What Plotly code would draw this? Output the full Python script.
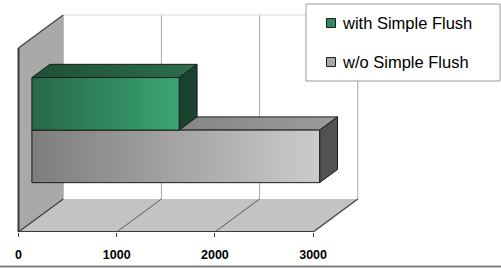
import plotly.graph_objects as go

# ---------------- data ----------------
series_names = ["with Simple Flush", "w/o Simple Flush"]
with_values = [1500]
without_values = [2930]
tick_values = [0, 1000, 2000, 3000]
tick_labels = ["0", "1000", "2000", "3000"]

# ---------------- layout geometry (style) ----------------
W, H = 501, 268
PLOT_H = 232                 # plot area height in px (bottom margin holds labels)
PX_PER_UNIT = 0.0982         # px per value unit on the front plane
X0_PX = 18.5                 # px position of value 0
PX_PER_Y = 92.0              # px per category unit
DEPTH_PX = (44.7, 33.0)      # full depth projection (right, up) in px
DX = DEPTH_PX[0] / PX_PER_UNIT
DY = DEPTH_PX[1] / PX_PER_Y
F1, F2 = 0.3, 0.7            # bar depth span (gap depth 150%)
GAP = 1.5                    # gap width 150%
BW = 2.0 / (2 + GAP)         # bar thickness in category units
X_MAX = max(tick_values)
Y_TOP = 2.0

x_range = [-X0_PX / PX_PER_UNIT, (W - X0_PX) / PX_PER_UNIT]
y_range = [0, PLOT_H / PX_PER_Y]


def p(x, y, f):
    return x + f * DX, y + f * DY


def poly(pts, fill=None, grad=None, line_color="rgba(0,0,0,0)", lw=1):
    xs = [q[0] for q in pts] + [pts[0][0]]
    ys = [q[1] for q in pts] + [pts[0][1]]
    kw = dict(x=xs, y=ys, mode="lines", fill="toself",
              line=dict(color=line_color, width=lw),
              hoverinfo="skip", showlegend=False)
    if grad is not None:
        kw["fillgradient"] = dict(type="horizontal", colorscale=[[0, grad[0]], [1, grad[1]]])
    else:
        kw["fillcolor"] = fill
    return go.Scatter(**kw)


def seg(a, b, color, lw=1):
    return go.Scatter(x=[a[0], b[0]], y=[a[1], b[1]], mode="lines",
                      line=dict(color=color, width=lw),
                      hoverinfo="skip", showlegend=False)


traces = []

# back wall gridlines
for tv in tick_values:
    traces.append(seg(p(tv, 0, 1), p(tv, Y_TOP, 1), "#a6a6a6", 1))
traces.append(seg(p(0, Y_TOP, 1), p(X_MAX, Y_TOP, 1), "#d9d9d9", 1))

# left side wall
traces.append(poly([p(0, 0, 0), p(0, Y_TOP, 0), p(0, Y_TOP, 1), p(0, 0, 1)], fill="#a9a9a9"))
traces.append(seg(p(0, 0, 0), p(0, Y_TOP, 0), "#3a3a3a", 2))
traces.append(seg(p(0, Y_TOP, 0), p(0, Y_TOP, 1), "#4a4a4a", 1.5))

# floor
traces.append(poly([p(0, 0, 0), p(X_MAX, 0, 0), p(X_MAX, 0, 1), p(0, 0, 1)], fill="#c3c3c3"))
for tv in tick_values[1:-1]:
    traces.append(seg(p(tv, 0, 0), p(tv, 0, 1), "#5a5a5a", 1))
traces.append(seg(p(0, 0, 0), p(0, 0, 1), "#3a3a3a", 1.2))
traces.append(seg(p(X_MAX, 0, 0), p(X_MAX, 0, 1), "#4a4a4a", 1.5))
traces.append(seg(p(0, 0, 0), p(X_MAX, 0, 0), "#3a3a3a", 2))


def bar(v, y0, y1, front, top, side):
    edge = "#1c1c1c"
    out = []
    out.append(poly([p(0, y1, F1), p(v, y1, F1), p(v, y1, F2), p(0, y1, F2)],
                    grad=top, line_color=edge, lw=1))
    out.append(poly([p(v, y0, F1), p(v, y1, F1), p(v, y1, F2), p(v, y0, F2)],
                    fill=side, line_color=edge, lw=1))
    out.append(poly([p(0, y0, F1), p(v, y0, F1), p(v, y1, F1), p(0, y1, F1)],
                    grad=front, line_color=edge, lw=1))
    return out


center = Y_TOP / 2
# w/o Simple Flush (lower bar)
for v in without_values:
    traces += bar(v, center - BW, center, ("#7d7d7d", "#cbcbcb"), ("#707070", "#9c9c9c"), "#525252")
# with Simple Flush (upper bar)
for v in with_values:
    traces += bar(v, center, center + BW, ("#286848", "#3aa572"), ("#1e5036", "#2c6e4b"), "#19432e")

fig = go.Figure(traces)

# ---------------- legend (drawn) ----------------
def px2paper(px, py):
    return px / W, (PLOT_H - py) / PLOT_H

shapes = []
lx0, ly0 = px2paper(306, 81)
lx1, ly1 = px2paper(500, 4)
shapes.append(dict(type="rect", xref="paper", yref="paper", x0=lx0, y0=ly0, x1=lx1, y1=ly1,
                   line=dict(color="#9a9a9a", width=1), fillcolor="white", layer="above"))
legend_colors = ["#2e8a5c", "#a8a8a8"]
legend_rows = [23, 62]
annotations = []
for name, col, cy in zip(series_names, legend_colors, legend_rows):
    a0 = px2paper(326.5, cy + 4.5)
    a1 = px2paper(335.5, cy - 4.5)
    shapes.append(dict(type="rect", xref="paper", yref="paper", x0=a0[0], y0=a0[1], x1=a1[0], y1=a1[1],
                       line=dict(color="#1c1c1c", width=1), fillcolor=col, layer="above"))
    tx, ty = px2paper(339.5, cy)
    annotations.append(dict(xref="paper", yref="paper", x=tx, y=ty, xanchor="left", yanchor="middle",
                            text=name, showarrow=False,
                            font=dict(family="Liberation Sans, Arial", size=16.5, color="#000000")))

# bottom border of chart area
b0 = px2paper(0, 266.5)
shapes.append(dict(type="line", xref="paper", yref="paper", x0=0, x1=1, y0=b0[1], y1=b0[1],
                   line=dict(color="#808080", width=2), layer="above"))

fig.update_layout(
    width=W, height=H,
    margin=dict(l=0, r=0, t=0, b=H - PLOT_H),
    paper_bgcolor="white", plot_bgcolor="white",
    showlegend=False,
    shapes=shapes, annotations=annotations,
    xaxis=dict(range=x_range, tickvals=tick_values, ticktext=tick_labels,
               ticks="outside", ticklen=4, tickcolor="#3a3a3a", tickwidth=1,
               ticklabelstandoff=7,
               showgrid=False, zeroline=False, showline=False,
               tickfont=dict(family="Liberation Sans, Arial", size=12.5, color="#000000", weight="bold"),
               fixedrange=True),
    yaxis=dict(range=y_range, visible=False, showgrid=False, zeroline=False, fixedrange=True),
)

fig.write_html("out.html", config={"displayModeBar": False},
               post_script="document.body.style.margin='0';document.body.style.overflow='hidden';")
